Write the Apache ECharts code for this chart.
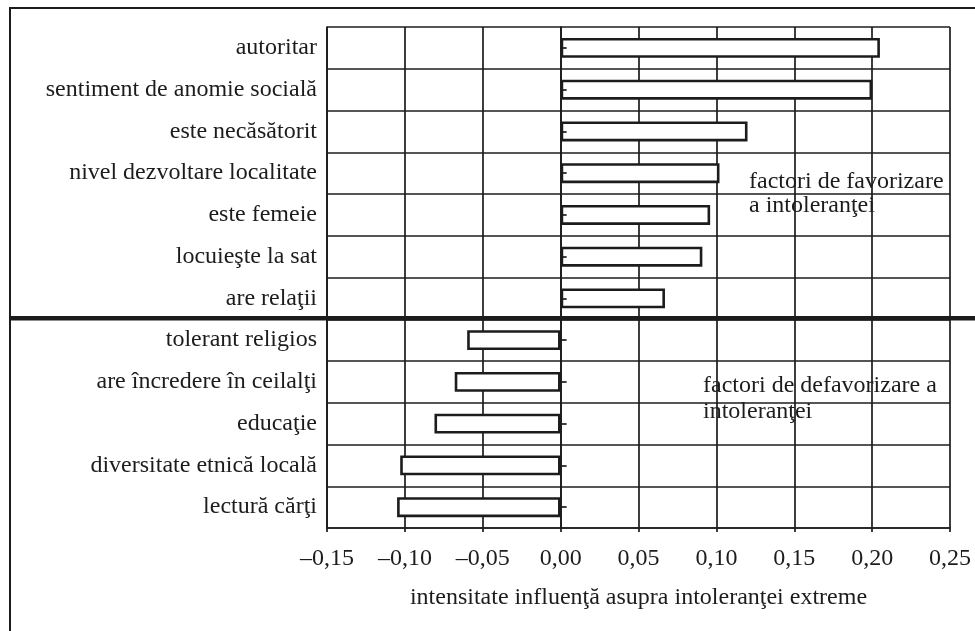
<!DOCTYPE html>
<html>
<head>
<meta charset="utf-8">
<script src="https://cdn.jsdelivr.net/npm/echarts@6/dist/echarts.min.js"></script>
<style>html,body{margin:0;padding:0;background:#fff;}#c{width:975px;height:631px;}</style>
</head>
<body>
<div id="c"></div>
<script>
var categories = ['autoritar','sentiment de anomie socială','este necăsătorit','nivel dezvoltare localitate','este femeie','locuieşte la sat','are relaţii','tolerant religios','are încredere în ceilalţi','educaţie','diversitate etnică locală','lectură cărţi'];
var values = [0.205, 0.200, 0.120, 0.102, 0.096, 0.091, 0.067, -0.060, -0.068, -0.081, -0.103, -0.105];
var xMin = -0.15, xMax = 0.25, xStep = 0.05;
var xAxisName = 'intensitate influenţă asupra intoleranţei extreme';
var noteFav = ['factori de favorizare', 'a intoleranţei'];
var noteDefav = ['factori de defavorizare a', 'intoleranţei'];

var FONT = 'Liberation Serif';
var FS = 24;
var INK = '#1c1c1c';
var chart = echarts.init(document.getElementById('c'), null, {renderer:'canvas'});
function fmt(v){ var s = Math.abs(v).toFixed(2).replace('.', ','); return (v < -1e-9 ? '–' : '') + s; }
var lineStyle = {color: INK, width: 1.7};
chart.setOption({
  animation: false,
  backgroundColor: '#fff',
  grid: {left: 327, right: 25, top: 27, bottom: 103, containLabel: false},
  xAxis: {
    type: 'value', min: xMin, max: xMax, interval: xStep,
    axisLine: {show: true, onZero: false, lineStyle: lineStyle},
    axisTick: {show: true, length: 4, lineStyle: lineStyle},
    splitLine: {show: true, lineStyle: lineStyle},
    axisLabel: {formatter: fmt, fontFamily: FONT, fontSize: FS, color: INK, margin: 19},
    name: xAxisName, nameLocation: 'middle', nameGap: 58,
    nameTextStyle: {fontFamily: FONT, fontSize: FS, color: INK}
  },
  yAxis: [{
    type: 'category', data: categories, inverse: true,
    axisLine: {show: true, onZero: false, lineStyle: lineStyle},
    axisTick: {show: false},
    splitLine: {show: true, lineStyle: lineStyle},
    axisLabel: {fontFamily: FONT, fontSize: FS, color: INK, margin: 10}
  }, {
    type: 'category', data: categories, inverse: true, position: 'left', z: 6,
    axisLine: {show: true, onZero: true, lineStyle: lineStyle},
    axisTick: {show: true, inside: true, alignWithLabel: true, length: 6, lineStyle: lineStyle},
    axisLabel: {show: false},
    splitLine: {show: false}
  }],
  series: [{
    type: 'bar', data: values, barWidth: 20, yAxisIndex: 0,
    itemStyle: {color: '#fff', borderColor: INK, borderWidth: 2.6},
    z: 3
  }]
});
var yA = chart.convertToPixel({yAxisIndex: 0}, 6);
var yB = chart.convertToPixel({yAxisIndex: 0}, 7);
var ySep = (yA + yB) / 2 - 1;
var txt = function(x, y, s){ return {type:'text', x:x, y:y, z:10, style:{text:s, font:FS + 'px "' + FONT + '"', fill:INK, textVerticalAlign:'middle', textAlign:'left'}}; };
chart.setOption({
  graphic: [
    {type:'rect', shape:{x:10, y:8, width:1000, height:700}, style:{fill:'none', stroke:INK, lineWidth:2}, z:10},
    {type:'line', shape:{x1:10, y1:ySep, x2:975, y2:ySep}, style:{stroke:INK, lineWidth:4.5}, z:10},
    txt(749, 182, noteFav[0]), txt(749, 206, noteFav[1]),
    txt(703, 386, noteDefav[0]), txt(703, 412, noteDefav[1])
  ]
});
</script>
</body>
</html>
